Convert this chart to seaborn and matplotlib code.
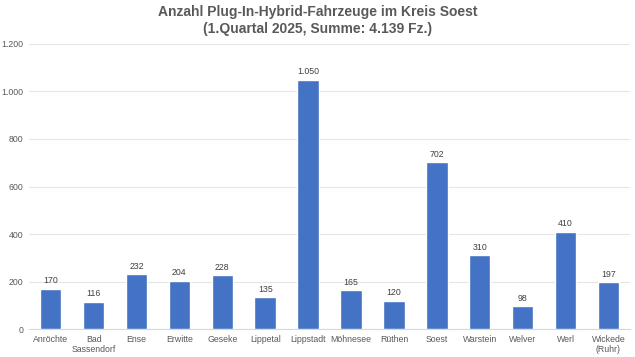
import pandas as pd
import matplotlib.pyplot as plt
import seaborn as sns
from matplotlib.ticker import FuncFormatter

orte = ['Anröchte', 'Bad\nSassendorf', 'Ense', 'Erwitte', 'Geseke', 'Lippetal',
        'Lippstadt', 'Möhnesee', 'Rüthen', 'Soest', 'Warstein', 'Welver',
        'Werl', 'Wickede\n(Ruhr)']
anzahl = [170, 116, 232, 204, 228, 135, 1050, 165, 120, 702, 310, 98, 410, 197]


def de_format(v):
    return f'{int(v):,}'.replace(',', '.')


sns.set_style('white')
plt.rcParams['font.family'] = ['Liberation Sans', 'DejaVu Sans']

df = pd.DataFrame({'ort': orte, 'anzahl': anzahl})

fig = plt.figure(figsize=(6.35, 3.57), dpi=100)
ax = fig.add_axes([0.046, 0.078, 0.946, 0.799])

sns.barplot(data=df, x='ort', y='anzahl', color='#4472C4', width=0.5,
            saturation=1, ax=ax, zorder=3)

ax.set_ylim(0, 1200)
ax.set_yticks(range(0, 1201, 200))
ax.yaxis.set_major_formatter(FuncFormatter(lambda v, p: de_format(v)))
ax.set_xlim(-0.5, len(orte) - 0.5)
ax.grid(axis='y', color='#E6E6E6', linewidth=0.8, zorder=0)
for s in ['top', 'right', 'left']:
    ax.spines[s].set_visible(False)
ax.spines['bottom'].set_color('#D9D9D9')
ax.tick_params(axis='both', length=0, labelsize=6.3, colors='#595959', pad=4)
ax.set_xlabel('')
ax.set_ylabel('')

for p, v in zip(ax.patches, anzahl):
    ax.text(p.get_x() + p.get_width() / 2, v + 14, de_format(v),
            ha='center', va='bottom', fontsize=6.3, color='#404040')

fig.suptitle('Anzahl Plug-In-Hybrid-Fahrzeuge im Kreis Soest\n(1.Quartal 2025, Summe: 4.139 Fz.)',
             fontsize=10, fontweight='bold', color='#595959', y=0.985, linespacing=1.2)

fig.savefig('out.png', dpi=100)
